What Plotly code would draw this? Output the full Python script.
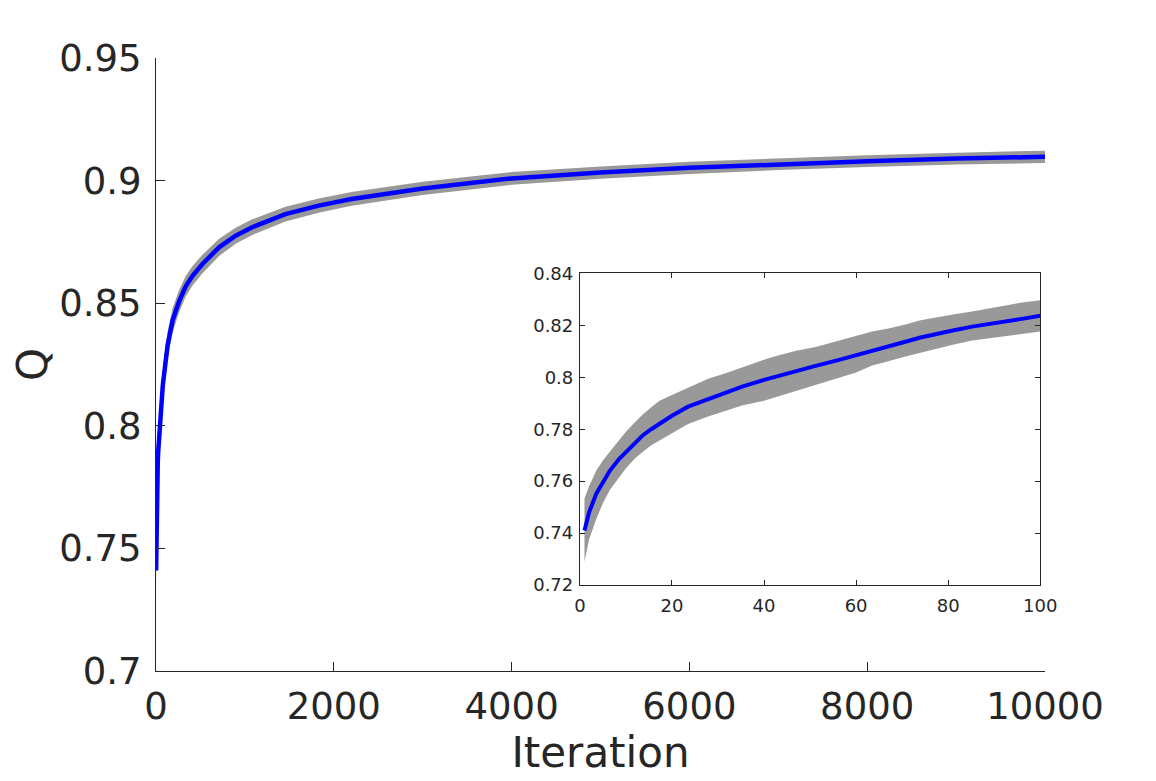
import plotly.graph_objects as go

# ---- data ----
iteration = [1, 2, 3.6, 5, 6.5, 8.5, 10, 12, 13.7, 15.5, 17.3, 20, 23.5, 28, 31.5,
             35.4, 40, 42.6, 47, 51.2, 56.3, 60, 63.5, 67, 70.7, 74, 77.9, 81,
             85.2, 88.7, 92.4, 96, 100,
             131, 187, 262, 336, 411, 523, 710, 896, 1083, 1456, 1830, 2200,
             3000, 4000, 5000, 6000, 7000, 8000, 9000, 10000]

q_mean = [0.7410, 0.7480, 0.7553, 0.7598, 0.7640, 0.7685, 0.7713, 0.7750, 0.7777,
          0.7800, 0.7822, 0.7852, 0.7887, 0.7918, 0.7940, 0.7965, 0.7990, 0.8003,
          0.8025, 0.8044, 0.8067, 0.8084, 0.8102, 0.8118, 0.8137, 0.8153, 0.8170,
          0.8180, 0.8195, 0.8204, 0.8214, 0.8225, 0.8237,
          0.8330, 0.8430, 0.8510, 0.8570, 0.8612, 0.8660, 0.8728, 0.8775, 0.8810,
          0.8863, 0.8898, 0.8925, 0.8968, 0.9009, 0.9033, 0.9052, 0.9067, 0.9079,
          0.9090, 0.9097]

q_upper = [0.7533, 0.7580, 0.7642, 0.7680, 0.7713, 0.7758, 0.7790, 0.7828, 0.7858,
           0.7885, 0.7910, 0.7932, 0.7960, 0.7995, 0.8015, 0.8040, 0.8068, 0.8082,
           0.8102, 0.8117, 0.8142, 0.8160, 0.8176, 0.8188, 0.8203, 0.8220, 0.8233,
           0.8242, 0.8253, 0.8265, 0.8278, 0.8288, 0.8297,
           0.8385, 0.8480, 0.8555, 0.8612, 0.8652, 0.8698, 0.8763, 0.8808, 0.8842,
           0.8893, 0.8927, 0.8953, 0.8995, 0.9035, 0.9058, 0.9077, 0.9091, 0.9103,
           0.9114, 0.9122]

q_lower = [0.7290, 0.7375, 0.7456, 0.7515, 0.7566, 0.7615, 0.7650, 0.7688, 0.7713,
           0.7738, 0.7758, 0.7785, 0.7820, 0.7850, 0.7870, 0.7892, 0.7910, 0.7924,
           0.7948, 0.7969, 0.7998, 0.8018, 0.8045, 0.8062, 0.8080, 0.8094, 0.8112,
           0.8125, 0.8142, 0.8150, 0.8158, 0.8167, 0.8176,
           0.8275, 0.8380, 0.8465, 0.8528, 0.8572, 0.8622, 0.8693, 0.8742, 0.8778,
           0.8833, 0.8869, 0.8897, 0.8941, 0.8983, 0.9008, 0.9027, 0.9043, 0.9055,
           0.9066, 0.9072]

main_xticks = [0, 2000, 4000, 6000, 8000, 10000]
main_xticklabels = ["0", "2000", "4000", "6000", "8000", "10000"]
main_yticks = [0.7, 0.75, 0.8, 0.85, 0.9, 0.95]
main_yticklabels = ["0.7", "0.75", "0.8", "0.85", "0.9", "0.95"]
inset_xticks = [0, 20, 40, 60, 80, 100]
inset_xticklabels = ["0", "20", "40", "60", "80", "100"]
inset_yticks = [0.72, 0.74, 0.76, 0.78, 0.80, 0.82, 0.84]
inset_yticklabels = ["0.72", "0.74", "0.76", "0.78", "0.8", "0.82", "0.84"]

FONT = "DejaVu Sans"
TXT = "#262626"
GRAY = "#999999"
BLUE = "#0000ff"

band_x = iteration + iteration[::-1]
band_y = q_upper + q_lower[::-1]

fig = go.Figure()
# main axes
fig.add_trace(go.Scatter(x=band_x, y=band_y, fill="toself", fillcolor=GRAY,
                         line=dict(width=0, color=GRAY), mode="lines",
                         hoverinfo="skip", showlegend=False, xaxis="x", yaxis="y"))
fig.add_trace(go.Scatter(x=iteration, y=q_mean, mode="lines",
                         line=dict(color=BLUE, width=4.5), showlegend=False,
                         xaxis="x", yaxis="y"))
# inset axes
fig.add_trace(go.Scatter(x=band_x, y=band_y, fill="toself", fillcolor=GRAY,
                         line=dict(width=0, color=GRAY), mode="lines",
                         hoverinfo="skip", showlegend=False, xaxis="x2", yaxis="y2"))
fig.add_trace(go.Scatter(x=iteration, y=q_mean, mode="lines",
                         line=dict(color=BLUE, width=4), showlegend=False,
                         xaxis="x2", yaxis="y2"))

axis_common = dict(showgrid=False, zeroline=False, showline=True, linecolor=TXT,
                   linewidth=1, ticks="inside", tickcolor=TXT, tickwidth=1)

fig.update_layout(
    width=1156, height=781,
    margin=dict(l=145, r=119, t=50, b=118),
    paper_bgcolor="white", plot_bgcolor="white",
    font=dict(family=FONT, color=TXT),
    xaxis=dict(**axis_common, domain=[0, 1], range=[0, 10000], tickvals=main_xticks,
               ticktext=main_xticklabels,
               ticklen=9, tickfont=dict(size=37, family=FONT, color=TXT),
               ticklabelstandoff=3,
               title=dict(text="Iteration", font=dict(size=42, family=FONT, color=TXT),
                          standoff=6),
               anchor="y"),
    yaxis=dict(**axis_common, domain=[0, 1], range=[0.7, 0.95], tickvals=main_yticks,
               ticktext=main_yticklabels, ticklen=9,
               tickfont=dict(size=37, family=FONT, color=TXT),
               ticklabelstandoff=6,
               title=dict(text="Q", font=dict(size=42, family=FONT, color=TXT),
                          standoff=10),
               anchor="x"),
    xaxis2=dict(**axis_common, domain=[0.4768, 0.9947], range=[0, 100],
                tickvals=inset_xticks, ticktext=inset_xticklabels, ticklen=5,
                mirror="ticks", ticklabelstandoff=4,
                tickfont=dict(size=18, family=FONT, color=TXT), anchor="y2"),
    yaxis2=dict(**axis_common, domain=[0.1402, 0.6486], range=[0.72, 0.84],
                tickvals=inset_yticks, ticktext=inset_yticklabels, ticklen=5,
                mirror="ticks", ticklabelstandoff=2,
                tickfont=dict(size=18, family=FONT, color=TXT),
                anchor="x2"),
)

fig.write_html("out.html")
